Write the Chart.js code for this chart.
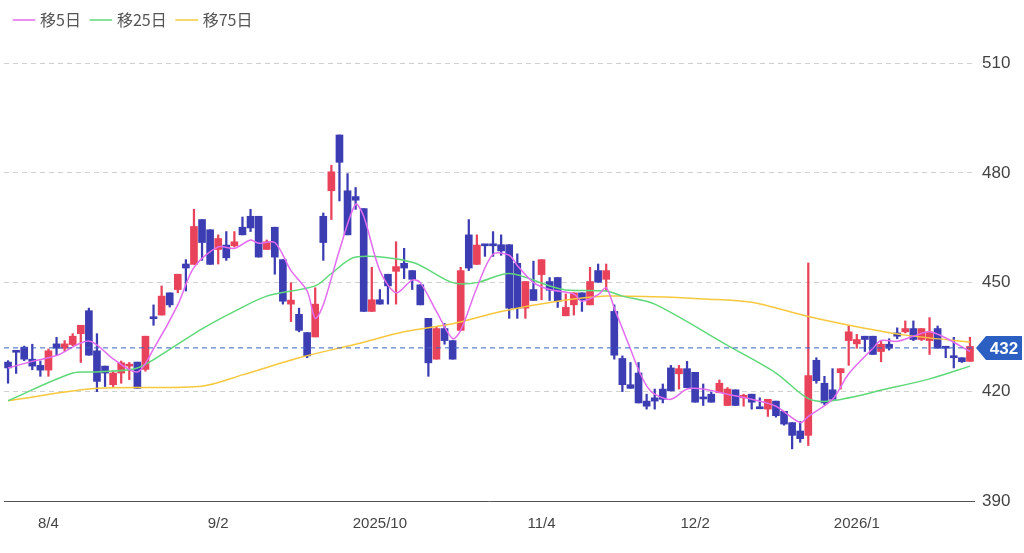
<!DOCTYPE html>
<html><head><meta charset="utf-8">
<script src="https://cdn.jsdelivr.net/npm/chart.js@4"></script>
<style>html,body{margin:0;padding:0;background:#fff}#w{width:1024px;height:553px}</style>
</head><body><div id="w"><canvas id="c"></canvas></div>
<script>
const opens  = [428.1,431,432.2,428.9,427.2,425.9,433.1,431.9,432.9,435.9,442.2,431.2,427,421.9,425.1,427,428.1,426.1,440.3,441,447.1,448,455,454.9,467.2,464.4,459,460.2,460,465.1,468.1,468.1,459,465.1,456.2,444,441.2,436.2,435,468.1,475.1,490.4,475.1,473.5,470.2,442,445.2,452.2,453,455.2,453.2,449.3,440.1,428.9,437.3,434,436.8,463,454.9,460.3,460.3,460.3,460.3,455.2,442.9,448,452.1,450.2,451.3,440.8,443.8,447.1,443.8,453.2,450.8,442,429.1,421.9,425.1,417.4,418.3,420.7,426.5,424.9,426.3,425.3,418.3,419.3,419.7,416.2,420.5,418.3,419.3,415.5,415.2,417.4,414.6,411.5,409.2,408,428.6,422.3,420.5,425.2,434,433.1,435.2,435.2,431,433,436.1,436.4,437.3,434.3,434,437.3,432.1,429.5,429.3,428.3];
const closes = [426.5,430.8,428.9,427,425.9,431.2,431.9,433.1,435.2,438.2,430,422.8,425.1,425.1,427.9,427.5,420.9,435.2,440,446.2,443.8,452.2,453.9,465.3,460.9,454.9,462,456.7,461.1,463,464.9,456.9,461.1,456.9,444.8,445.1,436.8,429.8,444,460.9,480.3,482.9,463,472.5,442,445.2,444,449,454.3,453.9,450.8,443.8,427.9,437.3,434,428.9,453.2,453.9,460.2,460,460,458.6,442.9,442.9,450.2,445,456.2,447.8,444.8,443.1,447.1,445.2,450.2,450,453.2,430,421.9,420.9,416.9,416,417.4,417.9,420.2,426.3,421.1,417.1,418,417.1,422.3,420.7,416.2,419,417.1,415.3,417.9,413.4,411.1,408,407.1,424.4,423,416.9,417.9,426.3,436.4,434.3,434.3,430.2,433,431.9,435.2,437.3,434.3,437.3,436.4,431.9,431.9,429.3,428.2,432.4];
const highs  = [428.5,431.3,432.5,433,428.4,431.7,434.9,434,435.9,438.2,442.9,435.9,427,425.6,428.4,428,428.1,435.2,443.8,449,447.1,452.2,456.2,470,467.2,464.4,463,463.9,463.9,467.9,470,468.1,461.6,465.1,456.2,449.9,442.9,436.2,448.5,469,482.1,490.4,479.8,476,470.2,454.1,448,452.2,461.1,459.3,453.2,449.3,440.1,437.7,438.7,434,454.1,467.2,463,460.3,463.9,463,460.3,457.8,450.2,455.8,456.2,451.3,451.3,446.8,447.1,447.1,454.1,455,455,443.8,429.8,428,428,419.3,420.7,422.1,427.2,427.2,428.3,425.3,422.1,419.9,423.2,421.1,420.5,419.3,419.3,418.3,417.9,417.4,414.6,411.5,411.8,455.3,429.3,424.2,426.3,426.3,438,435.7,435.2,435.2,433.8,434.5,437.5,439.4,439.4,437.3,440.3,438,432.1,434.9,429.3,434.9];
const lows   = [422.3,425,428.5,426,424.2,424.2,430,431,432.6,428,430,420,421.4,421.4,422.3,423.3,420.9,425.6,438.2,441,443.2,447.1,447.6,454.9,456,454.9,455,456,459.7,463,463.9,456.9,459,452.2,444,439.2,436.4,429.3,435,456,467.2,472.3,463,470,442,442,444,444,444,451,448,443.8,424.2,428.9,433,428.9,436.8,453.2,454.9,457.1,457.1,457.4,440.1,440.1,440.1,445,445.2,445,443.1,440.8,441,442,443.8,450,447.6,428.9,420,420.9,416.9,415.2,415.2,416.9,420.2,420.7,421.1,417.1,416.2,417.1,419.7,416.2,416.2,416,415.2,415.3,413.2,413,410.8,404.3,406.1,405.2,422.3,416.4,417.9,420.7,427.2,431.9,431,430.2,428.2,431.4,434.5,436.1,434,434,430.2,431.9,429.3,426.5,428,428.3];
// moving averages read at sample candles (index:value)
const ma5Pts  = {0:426.5,3:428.3,6:429.9,10:433.9,13:429,16:425.4,18:431.7,21:443.8,23:454.1,26:459.7,28:459.3,30:461.6,31:460.7,33:460.9,35:453.2,37:447.6,38:440.1,39:443.8,41:458.8,43:471.4,44:468.1,46:453.2,48:447.1,50:450.6,51:449.9,53:442,55:434.5,56:436.8,58:448.5,60:457.7,62:457.4,63:454.6,65:449.9,67:448,70:446.8,71:444.8,73:446.6,74:448.5,75:442.9,77:431.7,78:426,79:421.6,80:419.3,82:417.9,84:420.7,86:420.7,89:419.3,92:417.9,95:416,98:411.5,99:413.2,102:417.9,104:424.9,107:431.9,108:434,110:433.8,112:435.2,114:436.4,116:434.7,119:431};
const ma25Pts = {0:417.5,8:425.1,11:425.4,16:426.5,20:431.6,24:437.2,28:442,32:446.2,38:449,40:452.4,43:456.9,50:455.5,55:449.9,58:449.9,62:452.4,67:449,69:447.9,74:447.6,76:446.2,80:444,89:432.7,95:425.1,99:418.1,102:417.5,109:420.9,114:423.5,119:427};
const ma75Pts = {0:417.5,11:420.9,24:421.5,29:424.6,36:429.3,43:433,49:436.4,55:438.6,61:442,68:444.8,74:446.2,80:446,86:445.4,92:444.5,99:440.6,105:437.8,111:435.5,119:433.6};
const tickLabels = {5:'8/4',26:'9/2',46:'2025/10',66:'11/4',85:'12/2',105:'2026/1'};
const yTicks = [390,420,450,480,510];
const lastPrice = 432;

const N = opens.length;
const labels = Array.from({length:N},(_,i)=>tickLabels[i]||'');
const pts = o => Array.from({length:N},(_,i)=> o[i]!==undefined?o[i]:null);
const RED='#e8435a', BLUE='#3d3db3';
const col = opens.map((o,i)=> closes[i]>=o?RED:BLUE);

const pricePlugin = {id:'price',afterDatasetsDraw(ch){
  const {ctx,chartArea:a,scales:{y}} = ch; const py=y.getPixelForValue(lastPrice);
  ctx.save(); ctx.setLineDash([5,4]); ctx.strokeStyle='#3a64c4'; ctx.lineWidth=1;
  ctx.beginPath(); ctx.moveTo(a.left,py); ctx.lineTo(a.right,py); ctx.stroke(); ctx.setLineDash([]);
  const x0=a.right+2; ctx.fillStyle='#2c5fc2'; ctx.beginPath();
  ctx.moveTo(x0,py); ctx.lineTo(x0+10,py-12); ctx.lineTo(1022,py-12); ctx.lineTo(1022,py+12); ctx.lineTo(x0+10,py+12); ctx.closePath(); ctx.fill();
  ctx.fillStyle='#fff'; ctx.font='bold 17px "Liberation Sans", Arial, sans-serif'; ctx.textAlign='center'; ctx.textBaseline='middle';
  ctx.fillText(String(lastPrice),(x0+10+1022)/2,py+1); ctx.restore();
}};

const line=(lab,c,data)=>({type:'line',label:lab,data,borderColor:c,backgroundColor:c,borderWidth:1.5,pointRadius:0,tension:0.3,spanGaps:true,order:0});
new Chart(document.getElementById('c'),{
  data:{labels,datasets:[
    line('移5日','#e26bf0',pts(ma5Pts)),
    line('移25日','#5fd87a',pts(ma25Pts)),
    line('移75日','#f7c83e',pts(ma75Pts)),
    {type:'bar',label:'wick',data:highs.map((h,i)=>[lows[i],h]),backgroundColor:col,barThickness:1.6,grouped:false,order:2},
    {type:'bar',label:'body',data:opens.map((o,i)=>[Math.min(o,closes[i]),Math.max(o,closes[i])]),backgroundColor:col,barThickness:7,minBarLength:2,grouped:false,order:1}
  ]},
  options:{responsive:true,maintainAspectRatio:false,animation:false,
    layout:{padding:{left:4,right:0,top:0,bottom:14}},
    plugins:{tooltip:{enabled:false},
      legend:{align:'start',labels:{filter:it=>it.text.startsWith('移'),usePointStyle:true,pointStyle:'line',boxWidth:20,padding:12,color:'#555',font:{size:16,family:'"Noto Sans CJK JP", sans-serif'}}}},
    scales:{
      x:{grid:{display:false},border:{color:'#555'},ticks:{autoSkip:false,maxRotation:0,color:'#444',font:{size:15,family:'"Liberation Sans", Arial'},padding:6}},
      y:{position:'right',min:390,max:517,afterBuildTicks:s=>{s.ticks=yTicks.map(v=>({value:v}));},
        afterFit:s=>{s.width=50;},
        grid:{color:'#d0d0d0',drawTicks:false},border:{display:false,dash:[5,4]},
        ticks:{color:'#444',padding:8,font:{size:17,family:'"Liberation Sans", Arial'}}}
    }},
  plugins:[pricePlugin]
});
</script></body></html>
